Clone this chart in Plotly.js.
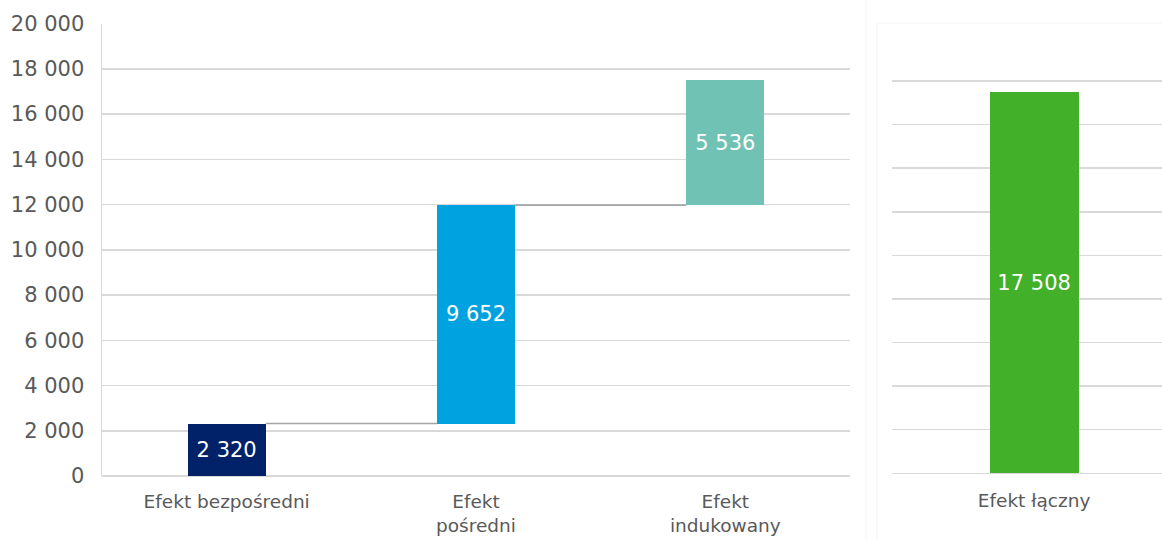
<!DOCTYPE html>
<html>
<head>
<meta charset="utf-8">
<script src="https://cdn.plot.ly/plotly-3.0.1.min.js"></script>
<style>
  html, body { margin: 0; padding: 0; background: #ffffff; }
  #chart { width: 1162px; height: 539px; }
</style>
</head>
<body>
<div id="chart"></div>
<script>
// Components of the effect (waterfall steps)
const stepLabels = ['Efekt bezpośredni', 'Efekt<br>pośredni', 'Efekt<br>indukowany'];
const stepValues = [2320, 9652, 5536];
const stepColors = ['#012169', '#00A3E0', '#6FC2B4'];

// Total effect shown in its own panel
const totalLabels = ['Efekt łączny'];
const totalValues = [17508];
const totalColors = ['#43B02A'];

// Value axis ticks
const tickValues = [0, 2000, 4000, 6000, 8000, 10000, 12000, 14000, 16000, 18000, 20000];

const BAR_WIDTH = 0.313;
const FONT = 'DejaVu Sans, Verdana, sans-serif';
const GRID = '#d9d9d9';
const TEXT = '#595959';

// Floating bars: each step starts where the previous one ended
const bases = [];
let running = 0;
stepValues.forEach(v => { bases.push(running); running += v; });
const tops = stepValues.map((v, i) => bases[i] + v);

const stepTrace = {
  type: 'bar',
  x: stepLabels,
  y: stepValues,
  base: bases,
  width: BAR_WIDTH,
  marker: { color: stepColors, line: { width: 0 } },
  texttemplate: '%{y:,.0f}',
  textposition: 'inside',
  insidetextanchor: 'middle',
  constraintext: 'none',
  textfont: { family: FONT, size: 21, color: '#ffffff' },
  hoverinfo: 'skip',
  xaxis: 'x', yaxis: 'y'
};

const totalTrace = {
  type: 'bar',
  x: totalLabels,
  y: totalValues,
  width: BAR_WIDTH,
  marker: { color: totalColors, line: { width: 0 } },
  texttemplate: '%{y:,.0f}',
  textposition: 'inside',
  insidetextanchor: 'middle',
  constraintext: 'none',
  textfont: { family: FONT, size: 21, color: '#ffffff' },
  hoverinfo: 'skip',
  xaxis: 'x2', yaxis: 'y2'
};

// Connector lines between consecutive steps, at the running total
const shapes = [];
for (let i = 0; i < stepValues.length - 1; i++) {
  shapes.push({
    type: 'line', xref: 'x', yref: 'y',
    x0: i + BAR_WIDTH / 2, x1: i + 1 - BAR_WIDTH / 2,
    y0: tops[i], y1: tops[i],
    line: { color: '#a6a6a6', width: 1.6 },
    layer: 'above'
  });
}
// Faint panel separators
shapes.push({
  type: 'line', xref: 'paper', yref: 'paper',
  x0: 0.7453, x1: 0.7453, y0: 0, y1: 1,
  line: { color: '#f2f2f2', width: 1 }, layer: 'below'
});
shapes.push({
  type: 'line', xref: 'paper', yref: 'paper',
  x0: 0.7547, x1: 0.7547, y0: 0, y1: 0.9573,
  line: { color: '#f4f4f4', width: 1 }, layer: 'below'
});
shapes.push({
  type: 'line', xref: 'paper', yref: 'paper',
  x0: 0.7547, x1: 1, y0: 0.9573, y1: 0.9573,
  line: { color: '#f4f4f4', width: 1 }, layer: 'below'
});

const layout = {
  width: 1162,
  height: 539,
  margin: { l: 0, r: 0, t: 0, b: 0 },
  paper_bgcolor: '#ffffff',
  plot_bgcolor: '#ffffff',
  showlegend: false,
  separators: ', ',
  font: { family: FONT, color: TEXT },
  bargap: 0,
  xaxis: {
    domain: [0.08778, 0.7315],
    range: [-0.5, 2.5],
    type: 'category',
    showgrid: false,
    zeroline: false,
    showline: false,
    ticks: '',
    ticklabelstandoff: 12,
    tickfont: { family: FONT, size: 18.5, color: TEXT },
    fixedrange: true
  },
  yaxis: {
    domain: [0.11688, 0.9564],
    range: [0, 20000],
    tickvals: tickValues,
    tickformat: ',d',
    showgrid: true,
    gridcolor: GRID,
    gridwidth: 1.5,
    zeroline: true,
    zerolinecolor: GRID,
    zerolinewidth: 1.5,
    showline: true,
    linecolor: GRID,
    linewidth: 1.5,
    ticks: '',
    ticklabelstandoff: 12,
    tickfont: { family: FONT, size: 21, color: TEXT },
    fixedrange: true
  },
  xaxis2: {
    domain: [0.76764, 1],
    range: [-0.5, 0.45],
    type: 'category',
    anchor: 'y2',
    showgrid: false,
    zeroline: false,
    showline: false,
    ticks: '',
    ticklabelstandoff: 14,
    tickfont: { family: FONT, size: 18.5, color: TEXT },
    fixedrange: true
  },
  yaxis2: {
    domain: [0.12189, 0.93043],
    range: [0, 20000],
    anchor: 'x2',
    tickvals: tickValues,
    showticklabels: false,
    showgrid: true,
    gridcolor: GRID,
    gridwidth: 1.5,
    zeroline: true,
    zerolinecolor: GRID,
    zerolinewidth: 1.5,
    showline: false,
    ticks: '',
    fixedrange: true
  },
  shapes: shapes
};

Plotly.newPlot('chart', [stepTrace, totalTrace], layout, { displayModeBar: false, staticPlot: true });
</script>
</body>
</html>
